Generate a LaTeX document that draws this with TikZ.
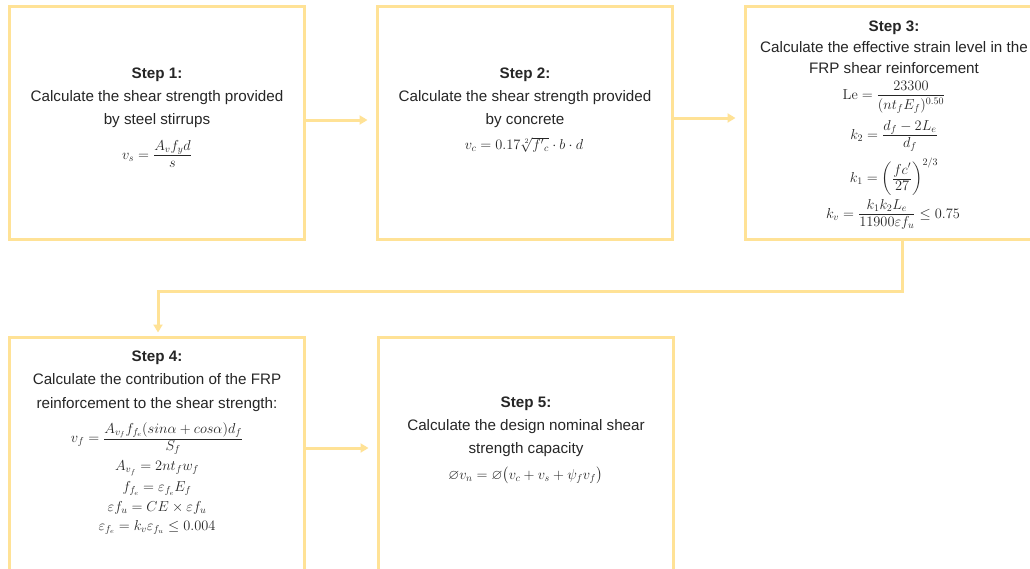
\documentclass[tikz,border=0pt]{standalone}
\usepackage{amsmath,amssymb}
\usepackage[no-math]{fontspec}
\setmainfont{Liberation Sans}
\usetikzlibrary{arrows.meta}
\definecolor{boxc}{RGB}{255,226,150}
\definecolor{txtc}{RGB}{38,38,38}
\newcommand{\tfr}[3][11pt]{\frac{\textstyle #2\rule[-4pt]{0pt}{4pt}}{\textstyle\rule{0pt}{#1}#3}}
\begin{document}
\begin{tikzpicture}[x=1pt,y=-1pt,
  stepbox/.style={draw=boxc, line width=3pt, minimum width=295pt, minimum height=233pt, inner sep=0pt, outer sep=0pt},
  desc/.style={anchor=base, align=center, text=txtc, inner sep=0pt, font=\fontsize{15.2}{#1}\selectfont},
  desc/.default=23,
  fml/.style={anchor=base, text=txtc, inner sep=0pt, font=\fontsize{14}{17}\selectfont},
  conn/.style={draw=boxc, line width=3pt, -{Triangle[length=8pt,width=9pt]}, shorten >=10pt}]
\useasboundingbox (0,0) rectangle (1030,568);
\clip (0,0) rectangle (1030,568);
\fill[white] (0,0) rectangle (1030,568);

% boxes
\node[stepbox] (b1) at (156.5,123) {};
\node[stepbox] (b2) at (525,123) {};
\node[stepbox] (b3) at (893,123) {};
\node[stepbox] (b4) at (157,454) {};
\node[stepbox] (b5) at (526,454) {};

% box 1 (base = last line)
\node[desc] (t1) at (157,124) {\textbf{Step 1:}\\Calculate the shear strength provided\\by steel stirrups};
\node[fml] (f1) at (157,159) {$v_s=\tfr{A_v f_y d}{s}$};

% box 2
\node[desc] (t2) at (525,124) {\textbf{Step 2:}\\Calculate the shear strength provided\\by concrete};
\node[fml] (f2) at (524,149) {$v_c=0.17\sqrt[2]{f'{}_c}\cdot b\cdot d$};

% box 3
\node[desc=21] (t3) at (894,73.5) {\textbf{Step 3:}\\Calculate the effective strain level in the\\FRP shear reinforcement};
\node[fml] (f3a) at (894,99) {$\mathrm{Le}=\tfr[13pt]{23300}{(nt_fE_f)^{0.50}}$};
\node[fml] (f3b) at (894,139) {$k_2=\tfr{d_f-2L_e}{d_f}$};
\node[fml] (f3c) at (894,182.5) {$k_1=\biggl(\tfr{fc'}{27}\biggr)^{2/3}$};
\node[fml] (f3d) at (893,218) {$k_v=\tfr{k_1k_2L_e}{11900\varepsilon f_u}\le 0.75$};

% box 4
\node[desc=23.5] (t4) at (157,408) {\textbf{Step 4:}\\Calculate the contribution of the FRP\\reinforcement to the shear strength:};
\node[fml] (f4a) at (157,442.5) {$v_f=\tfr{A_{v_f}f_{f_e}(sin\alpha+cos\alpha)d_f}{S_f}$};
\node[fml] (f4b) at (157,470.5) {$A_{v_f}=2nt_fw_f$};
\node[fml] (f4c) at (157,491.5) {$f_{f_e}=\varepsilon_{f_e}E_f$};
\node[fml] (f4d) at (157,511.5) {$\varepsilon f_u=CE\times\varepsilon f_u$};
\node[fml] (f4e) at (157,530) {$\varepsilon_{f_e}=k_v\varepsilon_{f_u}\le 0.004$};

% box 5
\node[desc] (t5) at (526,453.5) {\textbf{Step 5:}\\Calculate the design nominal shear\\strength capacity};
\node[fml] (f5) at (525.5,479) {$\varnothing v_n=\varnothing\bigl(v_c+v_s+\psi_f v_f\bigr)$};

% connectors
\draw[conn] ([yshift=3pt]b1.east) -- ([yshift=3pt]b2.west);
\draw[conn] ([yshift=5pt]b2.east) -- ([yshift=5pt]b3.west);
\draw[conn] ([yshift=6pt]b4.east) -- ([yshift=6pt]b5.west);
\draw[conn, shorten >=5pt] ([xshift=9pt]b3.south) -- ++(0,52) -| ([xshift=1pt]b4.north);
\end{tikzpicture}
\end{document}
